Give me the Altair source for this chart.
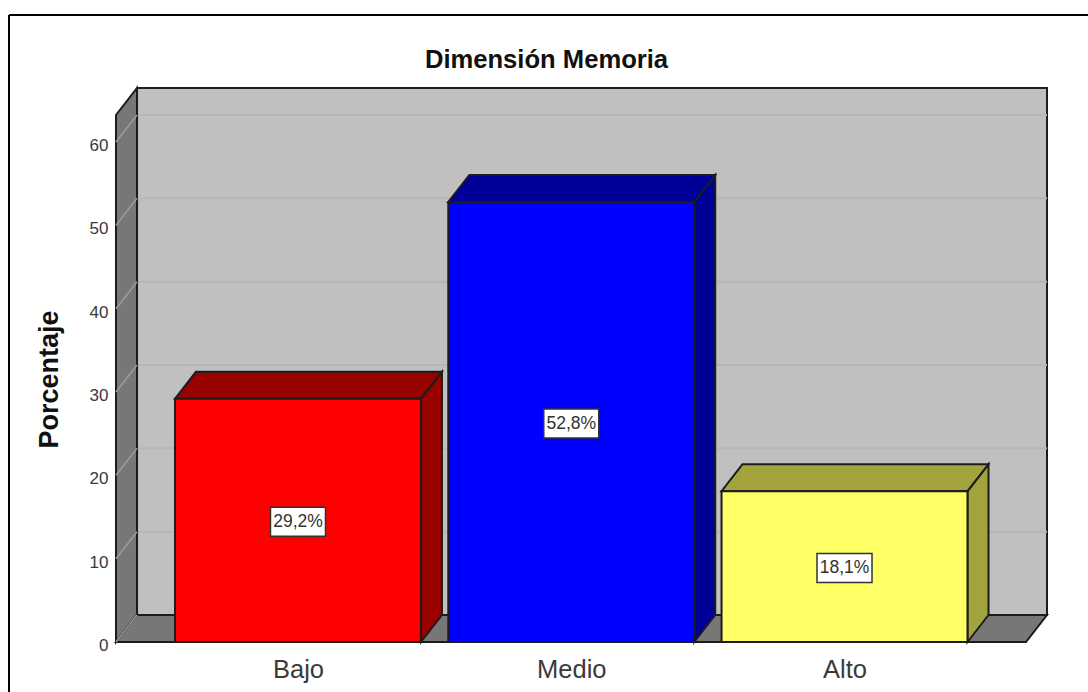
import json
import altair as alt
import pandas as pd

categories = ["Bajo", "Medio", "Alto"]
values = [29.2, 52.8, 18.1]
front_colors = ["#ff0000", "#0000ff", "#ffff66"]
shade_colors = ["#990000", "#000099", "#a3a33d"]
y_ticks = [0, 10, 20, 30, 40, 50, 60]

# Extrusion of the 3D box, expressed in axis units
DX = 0.0769
DY = 3.24
HALF_BAR = 0.45
X_MIN, X_MAX = -0.666, 2.741
Y_MAX = 66.48
FRONT_TOP = Y_MAX - DY
FRONT_RIGHT = X_MAX - DX

OUTLINE = "#1c1c1c"
FONT = "Liberation Sans"

x_scale = alt.Scale(domain=[X_MIN, X_MAX], nice=False, zero=False)
y_scale = alt.Scale(domain=[0, Y_MAX], nice=False, zero=False)
label_expr = f"{json.dumps(categories)}[datum.value]"

# Every layer shares the same axis definitions so that they merge into one
X = alt.X(
    "x:Q", scale=x_scale, title=None,
    axis=alt.Axis(values=[0, 1, 2], labelExpr=label_expr, grid=False, domain=False, ticks=False,
                  labelFont=FONT, labelFontSize=25.5, labelColor="#3a3a3a", labelPadding=15,
                  labelOverlap=False, labelFlush=False),
)
Y = alt.Y(
    "y:Q", scale=y_scale, title="Porcentaje",
    axis=alt.Axis(values=y_ticks, grid=False, domain=False, ticks=False, labelFont=FONT,
                  labelFontSize=17, labelColor="#3a3a3a", labelPadding=8, labelOffset=3.5,
                  titleFont=FONT, titleFontSize=27, titleFontWeight="bold",
                  titleColor="#111111", titleX=-53, titleY=291),
)
X2 = alt.X2("x2:Q")
Y2 = alt.Y2("y2:Q")
FILL = alt.Color("fill:N", scale=None, legend=None)

# Room: back wall
back_wall = alt.Chart(pd.DataFrame({"x": [X_MIN + DX], "x2": [X_MAX], "y": [DY], "y2": [Y_MAX]})).mark_rect(
    color="#c0c0c0", stroke=OUTLINE, strokeWidth=2
).encode(x=X, x2=X2, y=Y, y2=Y2)

left_wall = alt.Chart(pd.DataFrame({"x": [X_MIN, X_MIN + DX], "y": [0, DY], "y2": [FRONT_TOP, Y_MAX]})).mark_area(
    color="#777777", stroke=OUTLINE, strokeWidth=2, orient="vertical"
).encode(x=X, y=Y, y2=Y2)

floor = alt.Chart(pd.DataFrame({"y": [0, DY], "x": [X_MIN, X_MIN + DX], "x2": [FRONT_RIGHT, X_MAX]})).mark_area(
    color="#777777", stroke=OUTLINE, strokeWidth=2, orient="horizontal"
).encode(y=Y, x=X, x2=X2)

# Gridlines run along the back wall and fold down the left wall
back_grid = alt.Chart(pd.DataFrame({"x": [X_MIN + DX] * 6, "x2": [X_MAX] * 6, "y": [t + DY for t in y_ticks[1:]]})).mark_rule(
    color="#b6b6b6", strokeWidth=2
).encode(x=X, x2=X2, y=Y)

wall_rows = []
for t in y_ticks:
    wall_rows.append({"tick": t, "x": X_MIN, "y": t})
    wall_rows.append({"tick": t, "x": X_MIN + DX, "y": t + DY})
wall_grid = alt.Chart(pd.DataFrame(wall_rows)).mark_line(color="#9c9c9c", strokeWidth=1.5).encode(
    x=X, y=Y, detail="tick:N"
)

# Bars: one front, one top and one side face per category
front_rows, top_rows, side_rows = [], [], []
for i, (v, fc, sc) in enumerate(zip(values, front_colors, shade_colors)):
    left, right = i - HALF_BAR, i + HALF_BAR
    front_rows.append({"x": left, "x2": right, "y": 0, "y2": v, "fill": fc})
    top_rows += [
        {"y": v, "x": left, "x2": right, "fill": sc},
        {"y": v + DY, "x": left + DX, "x2": right + DX, "fill": sc},
    ]
    side_rows += [
        {"x": right, "y": 0, "y2": v, "fill": sc},
        {"x": right + DX, "y": DY, "y2": v + DY, "fill": sc},
    ]

bar_sides = alt.Chart(pd.DataFrame(side_rows)).mark_area(stroke=OUTLINE, strokeWidth=2, orient="vertical").encode(
    x=X, y=Y, y2=Y2, color=FILL
)
bar_tops = alt.Chart(pd.DataFrame(top_rows)).mark_area(stroke=OUTLINE, strokeWidth=2, orient="horizontal").encode(
    y=Y, x=X, x2=X2, color=FILL
)
bar_fronts = alt.Chart(pd.DataFrame(front_rows)).mark_rect(stroke=OUTLINE, strokeWidth=2).encode(
    x=X, x2=X2, y=Y, y2=Y2, color=FILL
)

# Value labels sit halfway up each bar in a small white box
labels = pd.DataFrame({
    "x": list(range(len(values))),
    "y": [v / 2 for v in values],
    "text": [f"{v:.1f}".replace(".", ",") + "%" for v in values],
})
label_boxes = alt.Chart(labels).mark_rect(
    width=55, height=29, color="#ffffff", stroke="#333333", strokeWidth=1.5, yOffset=1.5
).encode(x=X, y=Y)
label_text = alt.Chart(labels).mark_text(font=FONT, fontSize=17.5, color="#333333", yOffset=1.5).encode(
    x=X, y=Y, text="text:N"
)

# Frame line along the top and left edges of the figure
frame_top = alt.Chart(pd.DataFrame({"a": [0]})).mark_rule(color="#000000", strokeWidth=2).encode(
    x=alt.value(-107), x2=alt.value(972), y=alt.value(-73)
)
frame_left = alt.Chart(pd.DataFrame({"a": [0]})).mark_rule(color="#000000", strokeWidth=2).encode(
    x=alt.value(-107), y=alt.value(-73), y2=alt.value(604)
)

chart = alt.layer(
    back_wall, back_grid, left_wall, floor, wall_grid,
    bar_sides, bar_tops, bar_fronts,
    label_boxes, label_text,
    frame_top, frame_left,
).properties(
    width=931,
    height=554,
    background="#ffffff",
    padding={"left": 116, "top": 88, "right": 41, "bottom": 50},
    autosize=alt.AutoSizeParams(type="none"),
    title=alt.TitleParams("Dimensión Memoria", font=FONT, fontSize=25.6, fontWeight="bold", color="#111111",
                          anchor="middle", dx=-35, offset=-60),
).configure_view(stroke=None)

chart.save("out.html", embed_options={"renderer": "svg", "actions": False})
